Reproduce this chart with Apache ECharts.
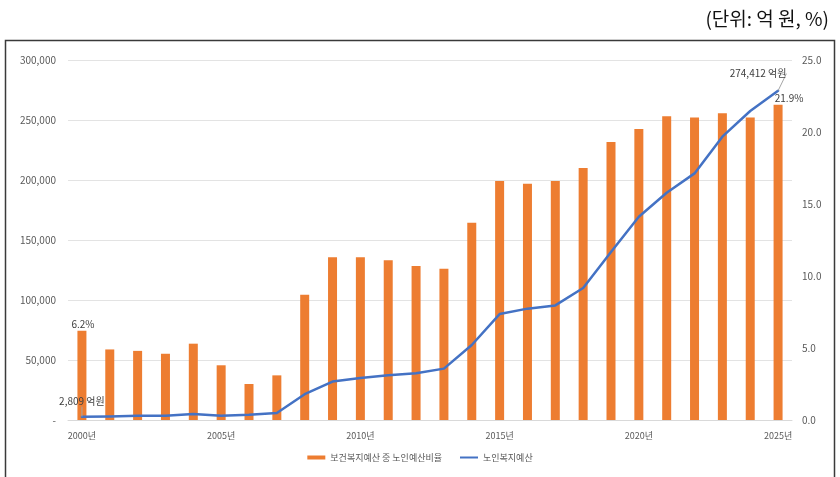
<!DOCTYPE html>
<html>
<head>
<meta charset="utf-8">
<script src="https://cdn.jsdelivr.net/npm/echarts@6/dist/echarts.min.js"></script>
<style>
  html, body { margin: 0; padding: 0; background: #fff; }
  #chart { width: 840px; height: 477px; }
</style>
</head>
<body>
<div id="chart"></div>
<script>
// 연도 (2000–2025)
const years = ['2000년','2001년','2002년','2003년','2004년','2005년','2006년','2007년','2008년','2009년',
  '2010년','2011년','2012년','2013년','2014년','2015년','2016년','2017년','2018년','2019년',
  '2020년','2021년','2022년','2023년','2024년','2025년'];

// 보건복지예산 중 노인예산비율 (%)
const elderShare = [6.2, 4.9, 4.8, 4.6, 5.3, 3.8, 2.5, 3.1, 8.7, 11.3,
  11.3, 11.1, 10.7, 10.5, 13.7, 16.6, 16.4, 16.6, 17.5, 19.3,
  20.2, 21.1, 21.0, 21.3, 21.0, 21.9];

// 노인복지예산 (억 원)
const elderBudget = [2809, 3000, 3500, 3500, 5000, 3600, 4400, 5800, 21500, 32000,
  35000, 37200, 38900, 42800, 62500, 88300, 92800, 95500, 110000, 140000,
  169400, 189400, 205500, 236100, 257500, 274412];

// 축 눈금
const leftTicks = { min: 0, max: 300000, interval: 50000 };
const rightTicks = { min: 0, max: 25, interval: 5 };

const FONT = '"Noto Sans CJK KR", "Noto Sans", sans-serif';
const lastIdx = years.length - 1;

const chart = echarts.init(document.getElementById('chart'), null, { renderer: 'canvas' });

chart.setOption({
  backgroundColor: '#ffffff',
  animation: false,
  textStyle: { fontFamily: FONT },
  title: {
    text: '(단위: 억 원, %)',
    right: 6,
    top: 4,
    textStyle: { fontFamily: FONT, fontSize: 19, fontWeight: 'normal', color: '#111' }
  },
  graphic: [{
    type: 'rect',
    silent: true,
    shape: { x: 5.5, y: 40.5, width: 829, height: 480 },
    style: { fill: 'none', stroke: '#3a3a3a', lineWidth: 1.5 }
  }],
  grid: { left: 68, right: 48, top: 60, bottom: 57, containLabel: false },
  legend: {
    bottom: 10,
    left: 'center',
    itemGap: 18,
    itemWidth: 18,
    itemHeight: 4,
    textStyle: { fontFamily: FONT, fontSize: 9, color: '#595959' },
    data: [
      { name: '보건복지예산 중 노인예산비율', icon: 'rect' },
      // 얇은 선 모양 아이콘 (18×2)
      { name: '노인복지예산', icon: 'path://M0,0L36,0L36,4L0,4Z' }
    ]
  },
  xAxis: {
    type: 'category',
    data: years,
    boundaryGap: true,
    axisLine: { show: true, lineStyle: { color: '#d9d9d9', width: 1 } },
    axisTick: { show: false },
    axisLabel: {
      interval: 4,
      margin: 11,
      fontSize: 9,
      color: '#595959',
      fontFamily: FONT
    }
  },
  yAxis: [
    {
      type: 'value',
      min: leftTicks.min,
      max: leftTicks.max,
      interval: leftTicks.interval,
      axisLine: { show: false },
      axisTick: { show: false },
      splitLine: { lineStyle: { color: '#e3e3e3', width: 1 } },
      axisLabel: {
        margin: 12,
        fontSize: 10,
        color: '#595959',
        fontFamily: FONT,
        formatter: v => v === 0 ? '-' : v.toLocaleString('en-US')
      }
    },
    {
      type: 'value',
      min: rightTicks.min,
      max: rightTicks.max,
      interval: rightTicks.interval,
      position: 'right',
      axisLine: { show: false },
      axisTick: { show: false },
      splitLine: { show: false },
      axisLabel: {
        margin: 10,
        fontSize: 10,
        color: '#595959',
        fontFamily: FONT,
        formatter: v => v.toFixed(1)
      }
    }
  ],
  series: [
    {
      name: '보건복지예산 중 노인예산비율',
      type: 'bar',
      yAxisIndex: 1,
      barWidth: 9,
      itemStyle: { color: '#ED7D31' },
      data: elderShare.map((v, i) => {
        if (i === 0) {
          return { value: v, label: { show: true, position: 'top', distance: 2, offset: [1, 0], formatter: '{c}%' } };
        }
        if (i === lastIdx) {
          return { value: v, label: { show: true, position: 'top', distance: 1, offset: [11, 0], formatter: '{c}%' } };
        }
        return v;
      }),
      label: { fontSize: 10, color: '#404040', fontFamily: FONT }
    },
    {
      name: '노인복지예산',
      type: 'line',
      yAxisIndex: 0,
      symbol: 'none',
      showSymbol: true,
      lineStyle: { color: '#4472C4', width: 2.5, cap: 'round', join: 'round' },
      itemStyle: { color: '#4472C4' },
      label: { fontSize: 10, color: '#404040', fontFamily: FONT },
      labelLine: { show: true, lineStyle: { color: '#a6a6a6', width: 1 } },
      labelLayout: params => {
        if (params.dataIndex === lastIdx) {
          return { dx: -20, dy: -10 };
        }
        return {};
      },
      data: elderBudget.map((v, i) => {
        if (i === 0 || i === lastIdx) {
          // 첫 해와 마지막 해에만 금액 표시 (보이지 않는 점에 라벨 부착)
          return {
            value: v,
            symbol: 'circle',
            symbolSize: 0.1,
            label: {
              show: true,
              position: 'top',
              distance: i === 0 ? 10 : 2,
              formatter: p => p.value.toLocaleString('en-US') + ' 억원'
            }
          };
        }
        return v;
      })
    }
  ]
});
</script>
</body>
</html>
